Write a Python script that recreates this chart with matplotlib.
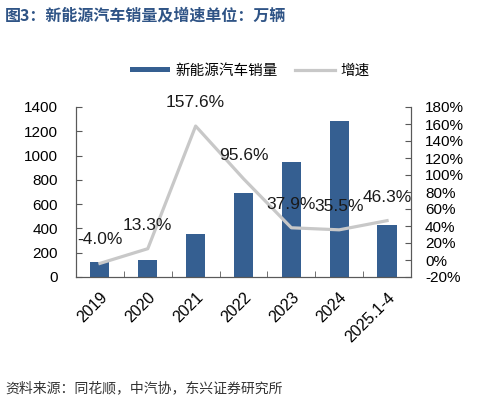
import numpy as np
import matplotlib.pyplot as plt

plt.rcParams['font.family'] = ['Liberation Sans', 'Noto Sans CJK SC', 'DejaVu Sans']

# Data
years = ['2019', '2020', '2021', '2022', '2023', '2024', '2025.1-4']
sales = [121, 137, 352, 688, 949, 1287, 430]
growth = [-4.0, 13.3, 157.6, 95.6, 37.9, 35.5, 46.3]
growth_labels = ['-4.0%', '13.3%', '157.6%', '95.6%', '37.9%', '35.5%', '46.3%']

bar_color = '#355f91'
line_color = '#c8c8c8'
axis_color = '#595959'

fig = plt.figure(figsize=(4.85, 4.0), dpi=100)
ax = fig.add_axes([76 / 485, 1 - 277 / 400, 335 / 485, 170 / 400])
ax2 = ax.twinx()

x = np.arange(len(years))
bars = ax.bar(x, sales, width=0.4, color=bar_color, label='新能源汽车销量', zorder=2)
line, = ax2.plot(x, growth, color=line_color, linewidth=2.3, label='增速', zorder=3)

for xi, g, lab in zip(x, growth, growth_labels):
    ax2.annotate(lab, (xi, g), xytext=(0, 17), textcoords='offset points',
                 ha='center', va='center', fontsize=12.5, color='#1a1a1a')

# Axes
ax.set_xlim(-0.5, len(years) - 0.5)
ax.set_ylim(0, 1400)
ax.set_yticks(np.arange(0, 1401, 200))
ax2.set_ylim(-20, 180)
ax2.set_yticks(np.arange(-20, 181, 20))
ax2.set_yticklabels([f'{v}%' for v in range(-20, 181, 20)])

ax.set_xticks(x)
ax.set_xticklabels(years, rotation=45, ha='right', rotation_mode='anchor')
ax.set_xticks(np.arange(-0.5, len(years), 1), minor=True)
ax.tick_params(axis='x', which='major', length=0, labelsize=11.5, pad=9)
ax.tick_params(axis='x', which='minor', direction='in', length=4, color=axis_color)
ax.tick_params(axis='y', direction='in', length=4, color=axis_color, labelsize=11, pad=13)
ax2.tick_params(axis='y', direction='in', length=4, color=axis_color, labelsize=11, pad=10)

for a in (ax, ax2):
    a.spines['top'].set_visible(False)
    for s in ('left', 'right', 'bottom'):
        a.spines[s].set_color(axis_color)

# Legend
fig.legend(handles=[bars, line], labels=['新能源汽车销量', '增速'],
           loc='center', bbox_to_anchor=(250 / 485, 1 - 71 / 400), ncol=2,
           frameon=False, handlelength=2.7, columnspacing=1.2,
           handletextpad=0.4,
           prop={'family': ['Noto Sans CJK SC', 'DejaVu Sans'], 'size': 10.5})
leg = fig.legends[0]
for h in leg.legend_handles:
    if hasattr(h, 'set_height'):
        h.set_height(4)
        h.set_y(2)

# Title and source
fig.text(5 / 485, 1 - 16 / 400, '图3：新能源汽车销量及增速单位：万辆', fontsize=11.5,
         fontweight='bold', color='#2f5486', va='center', ha='left',
         family=['Noto Sans CJK SC', 'DejaVu Sans'])
fig.text(5 / 485, 1 - 388 / 400, '资料来源：同花顺，中汽协，东兴证券研究所', fontsize=10,
         color='#333333', va='center', ha='left', style='italic',
         family=['Noto Sans CJK SC', 'DejaVu Sans'])

fig.savefig('out.png', dpi=100)
